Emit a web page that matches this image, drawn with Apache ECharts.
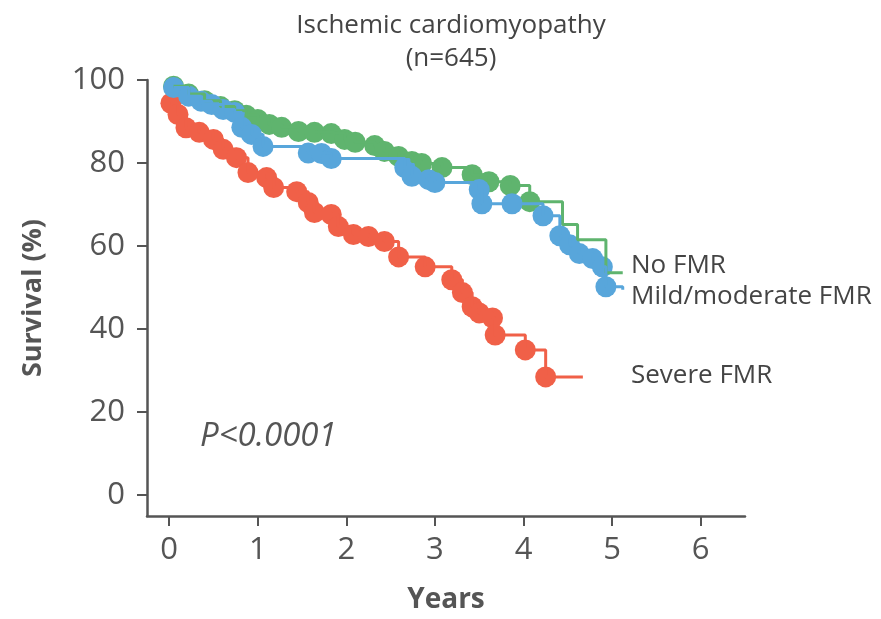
<!DOCTYPE html>
<html>
<head>
    <meta charset="UTF-8">
    <title>Ischemic cardiomyopathy</title>
    <script src="https://cdn.jsdelivr.net/npm/echarts@6/dist/echarts.min.js"></script>
</head>
<body style="margin:0">
    <div id="main" style="width: 881px;height:619px;"></div>
    <script type="text/javascript">
        // survival curves (years, %)
        var severeMarks = [[0.02,94.4],[0.10,91.7],[0.19,88.5],[0.34,87.4],[0.50,85.7],[0.61,83.3],[0.76,81.3],[0.89,77.7],[1.10,76.5],[1.18,74.1],[1.44,73.1],[1.57,70.5],[1.64,68.1],[1.83,67.6],[1.91,64.7],[2.08,62.8],[2.25,62.3],[2.43,61.1],[2.59,57.4],[2.89,55.0],[3.19,51.9],[3.31,48.8],[3.42,45.4],[3.50,43.9],[3.65,42.7],[3.68,38.6],[4.02,35.0],[4.25,28.5]];
        var severeTail = [[4.67,28.5]];

        var noneMarks = [[0.05,98.5],[0.22,96.6],[0.40,95.0],[0.58,93.6],[0.74,92.6],[0.87,91.5],[1.00,90.5],[1.13,89.3],[1.27,88.6],[1.46,87.6],[1.64,87.4],[1.83,87.1],[1.98,85.7],[2.10,85.0],[2.32,84.2],[2.43,82.8],[2.59,81.6],[2.74,80.4],[2.85,79.9],[3.08,78.9],[3.42,77.2],[3.61,75.5],[3.85,74.6],[4.07,70.7]];
        var noneTail = [[4.44,65.2],[4.61,61.5],[4.93,53.6],[5.12,53.6]];

        var mildMarks = [[0.05,98.2],[0.22,96.1],[0.36,94.9],[0.48,94.1],[0.61,92.9],[0.74,92.2],[0.82,88.6],[0.93,86.9],[1.06,84.0],[1.57,82.4],[1.72,82.3],[1.83,81.1],[2.66,78.9],[2.74,76.8],[2.93,76.0],[3.00,75.3],[3.50,73.6],[3.53,70.2],[3.87,70.2],[4.22,67.3],[4.41,62.5],[4.52,60.3],[4.63,58.2],[4.78,57.0],[4.89,55.0],[4.93,50.2]];
        var mildTail = [[5.12,49.5]];

        var xTicks = [0,1,2,3,4,5,6];
        var yTicks = [0,20,40,60,80,100];

        var red = '#f06048', green = '#5fb46e', blue = '#58a6db';
        var axisColor = '#555', textColor = '#444';
        var font = 'Open Sans';

        function curve(name, color, marks, tail) {
            return [{
                name: name, type: 'line', step: 'end', showSymbol: false,
                data: marks.concat(tail),
                lineStyle: {color: color, width: 3}, itemStyle: {color: color}
            }, {
                name: name, type: 'scatter', symbolSize: 21,
                data: marks, itemStyle: {color: color, opacity: 1}
            }];
        }

        var myChart = echarts.init(document.getElementById('main'));
        var option = {
            backgroundColor: '#fff',
            animation: false,
            textStyle: {fontFamily: font},
            title: {
                text: 'Ischemic cardiomyopathy\n(n=645)',
                left: 446, top: 4, textAlign: 'center',
                textStyle: {fontSize: 26, fontWeight: 'normal', color: textColor, lineHeight: 33, fontFamily: font}
            },
            grid: {left: 147, right: 136, top: 80, bottom: 102},
            xAxis: {
                type: 'value', min: -0.25, max: 6.5,
                name: 'Years', nameLocation: 'middle', nameGap: 70,
                nameTextStyle: {fontSize: 28, fontWeight: 'bold', color: axisColor, fontFamily: font},
                axisLine: {onZero: false, lineStyle: {color: axisColor, width: 2.5}},
                axisTick: {customValues: xTicks, length: 10, lineStyle: {color: axisColor, width: 2}},
                axisLabel: {customValues: xTicks, fontSize: 31, color: axisColor, margin: 19, fontFamily: font},
                splitLine: {show: false}
            },
            yAxis: {
                type: 'value', min: -5, max: 100,
                name: 'Survival (%)', nameLocation: 'middle', nameGap: 100, nameRotate: 90,
                nameTextStyle: {fontSize: 27, fontWeight: 'bold', color: axisColor, fontFamily: font},
                axisLine: {show: true, onZero: false, lineStyle: {color: axisColor, width: 2.5}},
                axisTick: {show: true, customValues: yTicks, length: 10, lineStyle: {color: axisColor, width: 2}},
                axisLabel: {customValues: yTicks, fontSize: 31, color: axisColor, margin: 22, fontFamily: font},
                splitLine: {show: false}
            },
            graphic: [
                {type: 'text', left: 200, top: 420, style: {text: 'P<0.0001', fontSize: 33, fontStyle: 'italic', fill: axisColor, fontFamily: font}},
                {type: 'text', left: 631, top: 253, style: {text: 'No FMR', fontSize: 26, fill: textColor, fontFamily: font}},
                {type: 'text', left: 631, top: 284, style: {text: 'Mild/moderate FMR', fontSize: 26, fill: textColor, fontFamily: font}},
                {type: 'text', left: 631, top: 363, style: {text: 'Severe FMR', fontSize: 26, fill: textColor, fontFamily: font}}
            ],
            series: [].concat(
                curve('Severe FMR', red, severeMarks, severeTail),
                curve('No FMR', green, noneMarks, noneTail),
                curve('Mild/moderate FMR', blue, mildMarks, mildTail)
            )
        };
        myChart.setOption(option);
    </script>
</body>
</html>
